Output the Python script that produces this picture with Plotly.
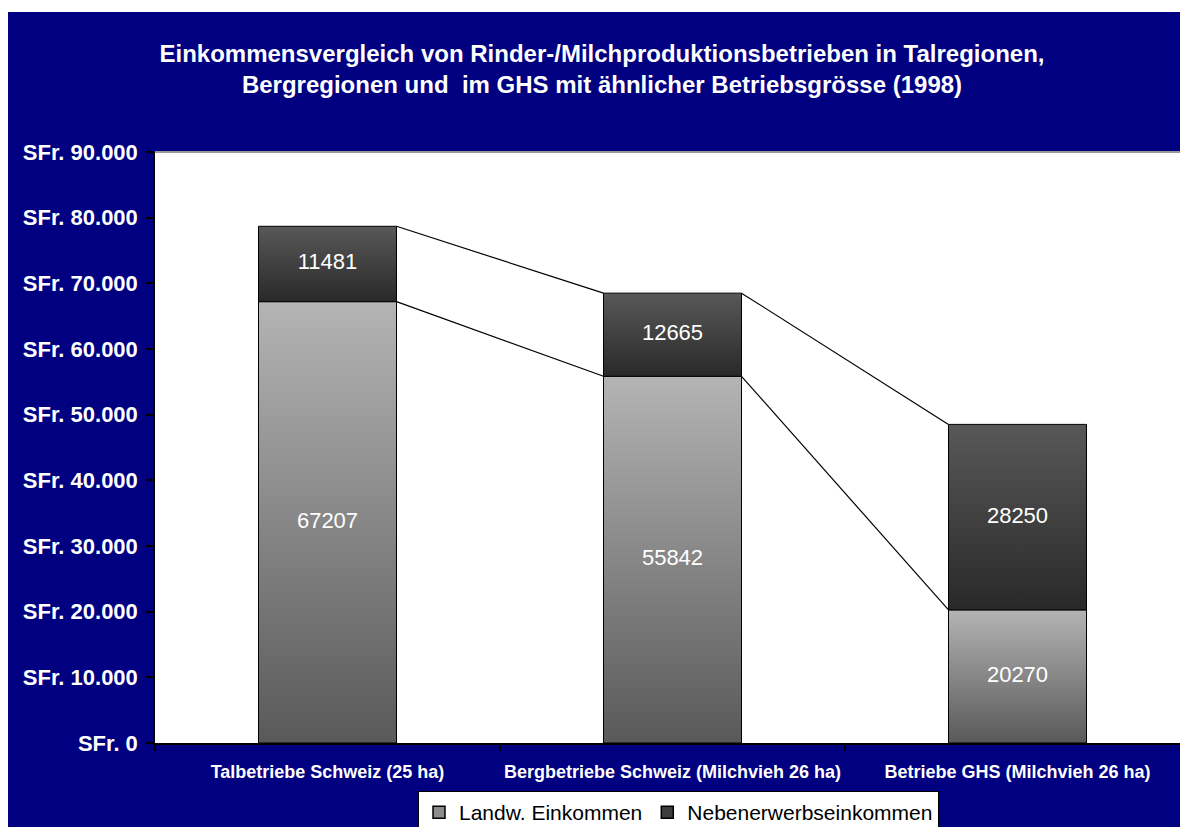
import plotly.graph_objects as go

# data
categories = ['Talbetriebe Schweiz (25 ha)',
              'Bergbetriebe Schweiz (Milchvieh 26 ha)',
              'Betriebe GHS (Milchvieh 26 ha)']
landw_einkommen = [67207, 55842, 20270]
neben_einkommen = [11481, 12665, 28250]
y_tick_vals = [0, 10000, 20000, 30000, 40000, 50000, 60000, 70000, 80000, 90000]
y_tick_text = ['SFr. 0', 'SFr. 10.000', 'SFr. 20.000', 'SFr. 30.000', 'SFr. 40.000',
               'SFr. 50.000', 'SFr. 60.000', 'SFr. 70.000', 'SFr. 80.000', 'SFr. 90.000']

FONT = 'Liberation Sans, Arial, sans-serif'
NAVY = '#000080'
HALF = 0.2  # half bar width in category units

W, H = 1188, 827
M_L, M_R, M_T, M_B = 147, 6, 144, 92
PLOT_W = W - M_L - M_R
PLOT_H = H - M_T - M_B

fig = go.Figure()


def add_segment(i, base, value, colorscale, name):
    x0, x1 = i - HALF, i + HALF
    fig.add_trace(go.Scatter(
        x=[x0, x1, x1, x0, x0],
        y=[base, base, base + value, base + value, base],
        fill='toself',
        mode='lines',
        line=dict(color='black', width=1),
        fillgradient=dict(type='vertical', colorscale=colorscale),
        name=name,
        showlegend=False,
        hoverinfo='skip'
    ))


landw_scale = [[0, '#595959'], [1, '#b4b4b4']]
neben_scale = [[0, '#292929'], [1, '#585858']]

for i, v in enumerate(landw_einkommen):
    add_segment(i, 0, v, landw_scale, 'Landw. Einkommen')
for i, v in enumerate(neben_einkommen):
    add_segment(i, landw_einkommen[i], v, neben_scale, 'Nebenerwerbseinkommen')

# legend entries (square swatches)
for name, col in [('Landw. Einkommen', '#8c8c8c'), ('Nebenerwerbseinkommen', '#3c3c3c')]:
    fig.add_trace(go.Bar(x=[None], y=[None], name=name,
                         marker=dict(color=col, line=dict(color='black', width=1.5))))

# series lines between bars
totals = [a + b for a, b in zip(landw_einkommen, neben_einkommen)]
sx, sy = [], []
for level in (landw_einkommen, totals):
    for i in range(len(categories) - 1):
        sx += [i + HALF, i + 1 - HALF, None]
        sy += [level[i], level[i + 1], None]
fig.add_trace(go.Scatter(x=sx, y=sy, mode='lines', line=dict(color='black', width=1.2),
                         showlegend=False, hoverinfo='skip'))

# value labels
lx, ly, lt = [], [], []
for i in range(len(categories)):
    lx += [i, i]
    ly += [landw_einkommen[i] / 2, landw_einkommen[i] + neben_einkommen[i] / 2]
    lt += [str(landw_einkommen[i]), str(neben_einkommen[i])]
fig.add_trace(go.Scatter(x=lx, y=ly, text=lt, mode='text',
                         textfont=dict(family=FONT, size=22, color='white'),
                         showlegend=False, hoverinfo='skip'))

fig.update_layout(
    width=W, height=H,
    margin=dict(l=M_L, r=M_R, t=M_T, b=M_B, autoexpand=False),
    paper_bgcolor=NAVY,
    plot_bgcolor='white',
    font=dict(family=FONT),
    title=dict(
        text='<b>Einkommensvergleich von Rinder-/Milchproduktionsbetrieben in Talregionen,<br>'
             'Bergregionen und \u00a0im GHS mit ähnlicher Betriebsgrösse (1998)</b>',
        xref='container', x=0.5, xanchor='center',
        yref='container', y=1 - 54 / H, yanchor='top',
        font=dict(family=FONT, size=24, color='white')
    ),
    xaxis=dict(
        range=[-0.5, 2.5],
        tickvals=[0, 1, 2],
        ticktext=['<b>%s</b>' % c for c in categories],
        tickfont=dict(family=FONT, size=18, color='white'),
        ticks='',
        showline=True, linecolor='black', linewidth=1.5,
        showgrid=False, zeroline=False,
        ticklabelstandoff=12,
        minor=dict(tickvals=[-0.5, 0.5, 1.5, 2.5], ticks='outside', ticklen=6,
                   tickcolor='black', tickwidth=1.5, showgrid=False)
    ),
    yaxis=dict(
        range=[0, 90000],
        tickvals=y_tick_vals,
        ticktext=['<b>%s</b>' % t for t in y_tick_text],
        tickfont=dict(family=FONT, size=22, color='white'),
        ticks='outside', ticklen=7, tickcolor='black', tickwidth=1.5,
        showline=True, linecolor='black', linewidth=1.5,
        showgrid=False, zeroline=False,
        ticklabelstandoff=4
    ),
    legend=dict(
        orientation='h',
        x=(410 - M_L) / PLOT_W, xanchor='left',
        y=(H - M_B - 783) / PLOT_H, yanchor='top',
        bgcolor='white', bordercolor='black', borderwidth=1,
        font=dict(family=FONT, size=21, color='black'),
        itemwidth=30, tracegroupgap=0
    ),
    shapes=[
        # grey plot-area top edge
        dict(type='line', xref='paper', yref='paper', x0=0, x1=1, y0=1, y1=1,
             line=dict(color='#999999', width=2)),
        # white page margin at the top
        dict(type='rect', xref='paper', yref='paper',
             x0=-M_L / PLOT_W, x1=(W - M_L) / PLOT_W,
             y0=(H - M_B - 4) / PLOT_H, y1=(H - M_B) / PLOT_H,
             fillcolor='white', line=dict(width=0)),
    ]
)

fig.write_html('out.html')
